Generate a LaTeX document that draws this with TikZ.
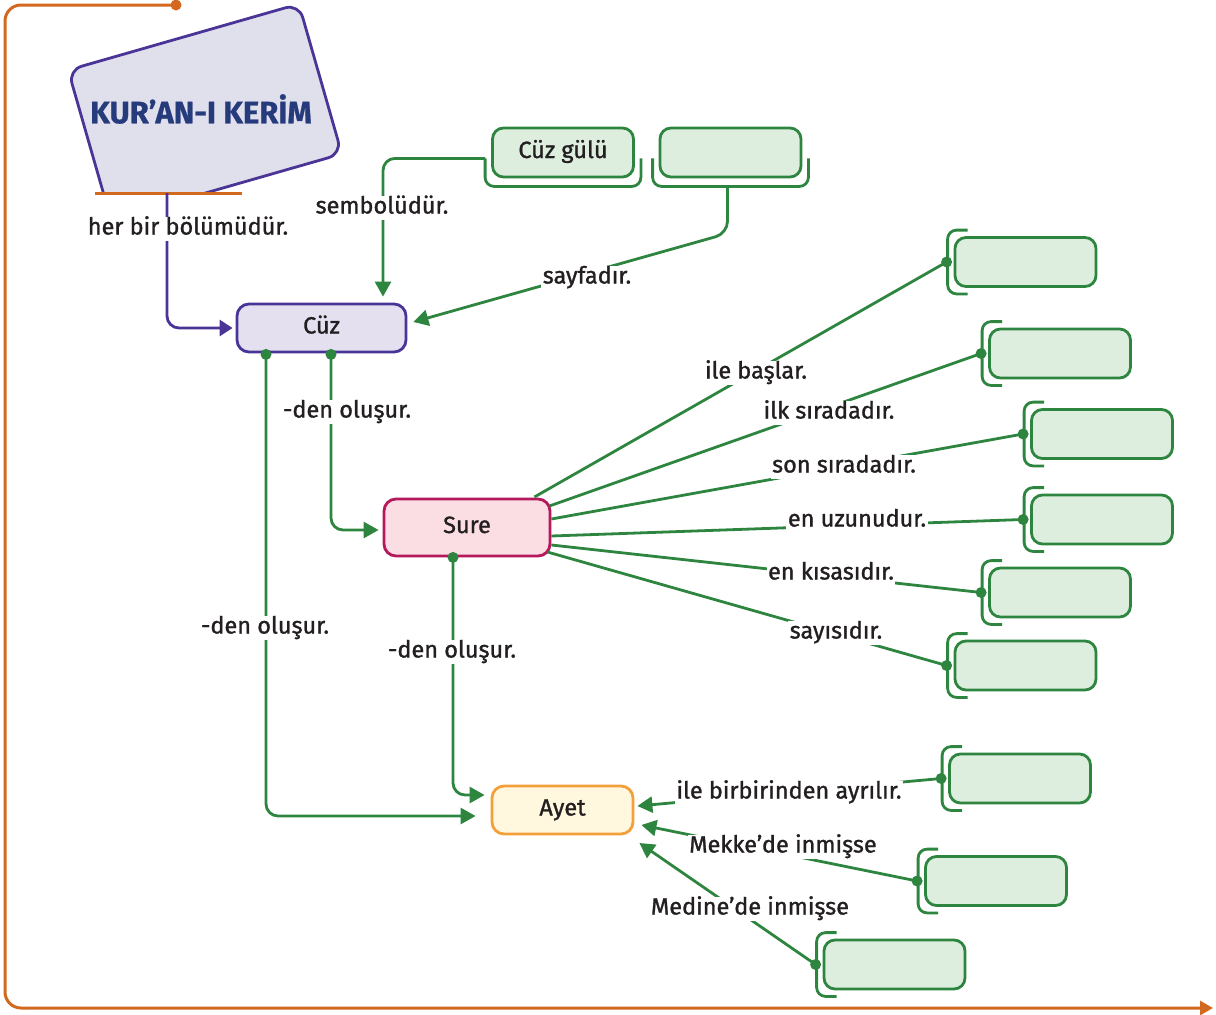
\documentclass[tikz,border=0pt]{standalone}
\usepackage{fontspec}
\setmainfont{Fira Sans}[FakeBold=1.2]
\newfontfamily\ttlfont{Fira Sans Bold}[FakeBold=0.8]
\usetikzlibrary{arrows.meta,calc}
\definecolor{gr}{HTML}{2E8540}
\definecolor{grf}{HTML}{DDEEDF}
\definecolor{pur}{HTML}{4A3597}
\definecolor{cuzf}{HTML}{E4E0EF}
\definecolor{cardf}{HTML}{E0DFEC}
\definecolor{ttl}{HTML}{263B7C}
\definecolor{surd}{HTML}{B5185B}
\definecolor{surf}{HTML}{FBDEE4}
\definecolor{ayd}{HTML}{F4A03A}
\definecolor{ayf}{HTML}{FFF8DE}
\definecolor{org}{HTML}{D2691F}
\definecolor{txt}{HTML}{231F20}
\newcommand\gbrL[1]{\draw[gline,rounded corners=9pt] ($(#1.north west)+(14,-6)$) -- ($(#1.north west)+(-6,-6)$) -- ($(#1.south west)+(-6,6)$) -- ($(#1.south west)+(14,6)$);}
\newcommand\gbrU[1]{\draw[gline,rounded corners=9pt] ($(#1.south west)+(-6,-20)$) -- ($(#1.south west)+(-6,8)$) -- ($(#1.south east)+(6,8)$) -- ($(#1.south east)+(6,-20)$);}
\begin{document}
\begin{tikzpicture}[x=1pt,y=-1pt,
  txtf/.style={font=\fontsize{23.5}{28}\selectfont, text=txt},
  lbl/.style={txtf, fill=white, inner sep=1.5pt, text height=16pt, text depth=5pt},
  gline/.style={draw=gr, line width=2.8pt},
  garrow/.style={gline, -{Triangle[length=15pt,width=16pt]}},
  pline/.style={draw=pur, line width=2.8pt},
  oline/.style={draw=org, line width=3pt},
  gbox/.style={draw=gr, fill=grf, line width=2.8pt, rounded corners=11pt, minimum width=141pt, minimum height=49pt, inner sep=0pt, txtf},
  mainbox/.style={line width=2.8pt, rounded corners=12pt, inner sep=0pt, txtf, text height=16pt, text depth=5pt},
  gdot/.style={fill=gr}
]
\useasboundingbox (0,0) rectangle (1216,1015);

% orange frame
\coordinate (ostart) at (176,5);
\coordinate (oend) at (1213,1008);
\draw[oline, rounded corners=16pt, -{Triangle[length=13pt,width=14pt]}] (ostart) -- (5,5) -- (5,1008) -- (oend);
\fill[org] (ostart) circle (5.5pt);

% title card
\begin{scope}
\clip (0,0) rectangle (420,193);
\node[draw=pur, fill=cardf, line width=2.8pt, rounded corners=14pt, minimum width=240pt, minimum height=156pt, rotate=16] (card) at (205,112) {};
\end{scope}
\node[font=\fontsize{31}{36}\selectfont\ttlfont, text=ttl] (title) at (201,109) {KUR’AN-I KERİM};
\coordinate (ul1) at (95,193);
\coordinate (ul2) at (242,193);
\draw[oline] (ul1) -- (ul2);
\coordinate (kbase) at (167,193);

% main nodes
\node[mainbox, draw=pur, fill=cuzf, minimum width=169pt, minimum height=48pt] (cuz) at (321.5,328) {Cüz};
\node[mainbox, draw=surd, fill=surf, minimum width=166pt, minimum height=57pt] (sure) at (467,527.5) {Sure};
\node[mainbox, draw=ayd, fill=ayf, minimum width=141pt, minimum height=48pt] (ayet) at (562.5,810) {Ayet};

% top boxes
\node[gbox, text height=16pt, text depth=5pt] (cg) at (563,152.5) {Cüz gülü};
\node[gbox] (tb2) at (730.5,152.5) {};
\gbrU{cg}
\gbrU{tb2}

% right boxes
\node[gbox] (b1) at (1025.5,262) {};
\node[gbox] (b2) at (1060,353.5) {};
\node[gbox] (b3) at (1102,434) {};
\node[gbox] (b4) at (1102,519.5) {};
\node[gbox] (b5) at (1060,592.5) {};
\node[gbox] (b6) at (1025.5,665.5) {};
\node[gbox] (b7) at (1020,778.5) {};
\node[gbox] (b8) at (996,881) {};
\node[gbox] (b9) at (894.5,964.5) {};
\foreach \b in {b1,b2,b3,b4,b5,b6,b7,b8,b9}{\gbrL{\b}}
\foreach \b in {b1,b2,b3,b4,b5,b6,b7,b8,b9}{\coordinate (d\b) at ($(\b.west)+(-7,0)$);}

% purple connector
\draw[pline, rounded corners=12pt, -{Triangle[length=13pt,width=16pt]}] (kbase) |- ($(cuz.west)+(-3,0)$);
\node[lbl] at (188,229) {her bir bölümüdür.};

% top connectors
\draw[garrow, rounded corners=12pt] ($(cg.south west)+(-6,-20)$) -| ($(cuz.north)+(61.5,-6)$);
\node[lbl] at (382,208) {sembolüdür.};
\draw[garrow, rounded corners=12pt] ($(tb2.south)+(-3,8)$) -- ($(tb2.south)+(-3,55)$) -- ($(cuz.east)+(6,-6)$);
\node[lbl] at (587,278) {sayfadır.};

% Cüz -> Sure, Cüz -> Ayet, Sure -> Ayet
\coordinate (c1) at ($(cuz.south)+(-55.5,1)$);
\coordinate (c2) at ($(cuz.south)+(9.5,1)$);
\coordinate (s1) at ($(sure.south)+(-14,0)$);
\draw[garrow, rounded corners=12pt] (c2) |- ($(sure.west)+(-4,2.5)$);
\draw[garrow, rounded corners=12pt] (c1) |- ($(ayet.west)+(-15,6)$);
\draw[garrow, rounded corners=12pt] (s1) |- ($(ayet.west)+(-6,-15)$);
\node[lbl] at (347,412) {-den oluşur.};
\node[lbl] at (265,628) {-den oluşur.};
\node[lbl] at (452,652) {-den oluşur.};
\foreach \p in {c1,c2,s1}{\fill[gr] (\p) circle (5.5pt);}

% fan from Sure
\draw[gline] ($(sure.east)+(-17,-30.5)$) -- (db1);
\draw[gline] ($(sure.east)+(-2,-21.5)$) -- (db2);
\draw[gline] ($(sure.east)+(0,-8.5)$) -- (db3);
\draw[gline] ($(sure.east)+(0,8.5)$) -- (db4);
\draw[gline] ($(sure.east)+(0,17.5)$) -- (db5);
\draw[gline] ($(sure.east)+(-4,24.5)$) -- (db6);
\node[lbl] at (756,373) {ile başlar.};
\node[lbl] at (829,413) {ilk sıradadır.};
\node[lbl] at (844,467) {son sıradadır.};
\node[lbl] at (857,521) {en uzunudur.};
\node[lbl] at (831,574) {en kısasıdır.};
\node[lbl] at (836,633) {sayısıdır.};

% into Ayet
\draw[garrow] (db7) -- ($(ayet.east)+(3,-4)$);
\draw[garrow] (db8) -- ($(ayet.east)+(7,15)$);
\draw[garrow] (db9) -- ($(ayet.east)+(5,33)$);
\node[lbl] at (789,793) {ile birbirinden ayrılır.};
\node[lbl] at (783,847) {Mekke’de inmişse};
\node[lbl] at (750,909) {Medine’de inmişse};

\foreach \b in {b1,b2,b3,b4,b5,b6,b7,b8,b9}{\fill[gr] (d\b) circle (5.5pt);}
\end{tikzpicture}
\end{document}
